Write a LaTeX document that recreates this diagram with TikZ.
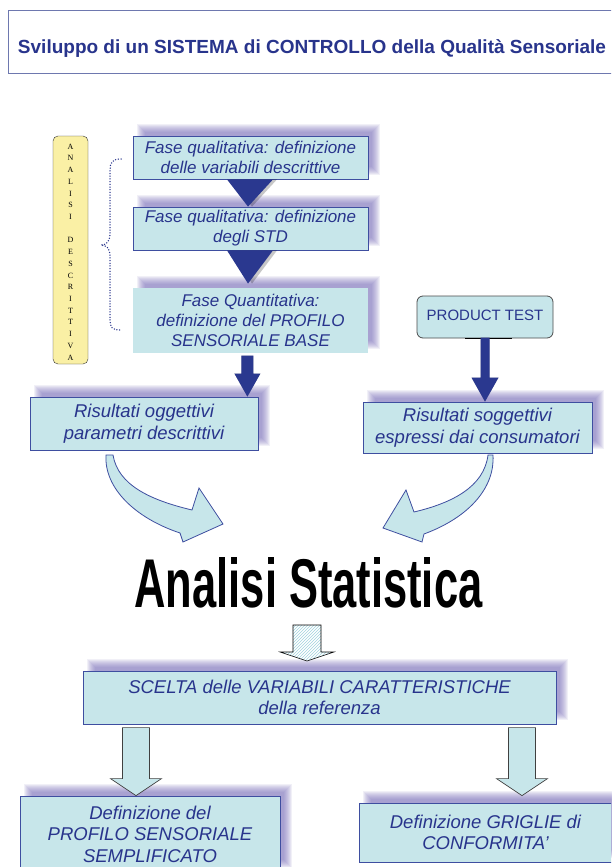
\documentclass[tikz,border=0pt]{standalone}
\usepackage{fontspec}
\usepackage{graphicx}
\setmainfont{Liberation Sans}
\newfontfamily\serifx{Liberation Serif}
\usetikzlibrary{calc,patterns}
\definecolor{boxfill}{RGB}{199,230,234}
\definecolor{boxline}{RGB}{62,78,160}
\definecolor{txtblue}{RGB}{40,52,140}
\definecolor{darkblue}{RGB}{42,56,143}
\definecolor{shadowc}{RGB}{120,108,185}
\definecolor{ttlline}{RGB}{110,120,175}
\definecolor{yellowc}{RGB}{250,240,165}
\definecolor{hatchc}{RGB}{160,210,222}
\pgfdeclarelayer{paper}
\pgfdeclarelayer{bg}
\pgfsetlayers{paper,bg,main}
\newcommand\boxshadow[1]{%
  \begin{pgfonlayer}{bg}
  \foreach \k in {-4,...,4}{%
    \fill[shadowc,opacity=0.10] ($(#1.north west)+(8+\k,-8+\k)$) rectangle ($(#1.south east)+(8-\k,-8-\k)$);
  }
  \end{pgfonlayer}}
\tikzset{
  fbox/.style={rectangle, fill=boxfill, draw=boxline, line width=0.8pt, inner sep=0pt, align=center,
    text=txtblue, font=\fontsize{17}{20}\selectfont\itshape},
  rbox/.style={fbox, font=\fontsize{18.5}{21.5}\selectfont\itshape},
  tri/.style={fill=darkblue},
  trishadow/.style={fill=black, opacity=0.22},
  barrow/.style={fill=boxfill, draw=black!75, line width=0.7pt},
  carrow/.style={fill=boxfill, draw=boxline, line width=0.8pt},
  brace/.style={draw=txtblue, line width=1.5pt, dash pattern=on 0pt off 2.7pt, line cap=round},
}
\begin{document}
\begin{tikzpicture}[x=1pt,y=-1pt]
\useasboundingbox (0,0) rectangle (611,867);
\clip (0,0) rectangle (611,867);
\begin{pgfonlayer}{paper}
\fill[white] (0,0) rectangle (611,867);
\end{pgfonlayer}

% title
\node[draw=ttlline, line width=1pt, minimum width=612, minimum height=62, inner sep=0pt] (titlebox) at (314,42) {};
\node[font=\fontsize{19}{22}\selectfont\bfseries, text=txtblue, anchor=base] (title) at (312,54)
  {Sviluppo di un SISTEMA di CONTROLLO della Qualità Sensoriale};

% yellow vertical label
\node[draw=black!80, fill=yellowc, rounded corners=5, minimum width=35, minimum height=228, inner sep=0pt] (ybox) at (70.5,250) {};
\node[font=\fontsize{8}{11.72}\selectfont\serifx, align=center, inner sep=0pt] (vert) at (70.5,252)
  {A\\N\\A\\L\\I\\S\\I\\[11.72pt]D\\E\\S\\C\\R\\I\\T\\T\\I\\V\\A};

% dotted brace
\draw[brace] (121,159) .. controls (112,159) and (110,163) .. (110,170) -- (110,234)
  .. controls (110,242) and (106,245) .. (101,245)
  .. controls (106,245) and (110,248) .. (110,256) -- (110,320)
  .. controls (110,327) and (112,330) .. (120,330);

% descriptive boxes
\node[fbox, minimum width=235, minimum height=43] (b1) at (250.5,157.5) {Fase qualitativa: definizione\\delle variabili descrittive};
\node[fbox, minimum width=235, minimum height=43] (b2) at (250.5,228.5) {Fase qualitativa: definizione\\degli STD};
\node[fbox, draw=none, minimum width=235, minimum height=65] (b3) at (250.5,320.5) {Fase Quantitativa:\\definizione del PROFILO\\SENSORIALE BASE};
\boxshadow{b1}\boxshadow{b2}\boxshadow{b3}

% triangles
\fill[trishadow] ($(b1.south)+(-20.5,0)$) -- ($(b1.south)+(26.5,0)$) -- ($(b2.north)+(1.5,0)$) -- cycle;
\fill[tri] ($(b1.south)+(-23.5,0)$) -- ($(b1.south)+(22.5,0)$) -- ($(b2.north)+(-2.5,0)$) -- cycle;
\fill[trishadow] ($(b2.south)+(-20.5,0)$) -- ($(b2.south)+(26.5,0)$) -- ($(b3.north)+(1.5,-4)$) -- cycle;
\fill[tri] ($(b2.south)+(-23.5,0)$) -- ($(b2.south)+(22.5,0)$) -- ($(b3.north)+(-2.5,-4)$) -- cycle;

% results
\node[rbox, minimum width=228, minimum height=53] (r1) at (144,423.5) {Risultati oggettivi\\parametri descrittivi};
\node[rbox, minimum width=229, minimum height=51] (r2) at (477.5,427.5) {Risultati soggettivi\\espressi dai consumatori};
\boxshadow{r1}\boxshadow{r2}

% product test
\node[rectangle, rounded corners=6, fill=boxfill, draw=black!70, line width=0.8pt, minimum width=136, minimum height=42,
  inner sep=0pt, text=txtblue, font=\fontsize{15}{18}\selectfont, text depth=4pt] (pt) at (485,317) {PRODUCT TEST};
\draw[black, line width=1.2pt] ($(pt.south)+(-20,0)$) -- ($(pt.south)+(27,0)$);

% blue arrow b3 -> r1
\coordinate (a3) at ($(r1.north east)+(-11,0)$);
\fill[trishadow, shift={(4,-2)}] (a3) -- ++(13,-23) -- ++(-7,0) -- ++(0,-18) -- ++(-12,0) -- ++(0,18) -- ++(-7,0) -- cycle;
\fill[tri] (a3) -- ++(13,-23) -- ++(-7,0) -- ++(0,-18) -- ++(-12,0) -- ++(0,18) -- ++(-7,0) -- cycle;

% blue arrow pt -> r2
\coordinate (a4) at ($(r2.north)+(7.5,0)$);
\fill[trishadow, shift={(4,-2)}] (a4) -- ++(13.5,-24) -- ++(-9,0) -- ++(0,-38) -- ++(-9,0) -- ++(0,38) -- ++(-9,0) -- cycle;
\fill[tri] (a4) -- ++(13.5,-24) -- ++(-9,0) -- ++(0,-40) -- ++(-9,0) -- ++(0,40) -- ++(-9,0) -- cycle;

% curved arrows
\filldraw[carrow] (113,455) .. controls (118,485) and (150,500) .. (192,510)
  -- (199,488) -- (223,524) -- (183,542) -- (180,533)
  .. controls (135,518) and (104,488) .. (106,455) -- cycle;
\filldraw[carrow] (488,455) .. controls (484,487) and (452,503) .. (414,512)
  -- (406,490) -- (383,528) -- (422,542) -- (424,534)
  .. controls (470,517) and (495,487) .. (493,455) -- cycle;

% Analisi Statistica
\node[font=\fontsize{69}{70}\selectfont\bfseries, anchor=base, inner sep=0pt] (stat) at (308.5,607)
  {\scalebox{0.63}[1]{Analisi Statistica}};

% hatched arrow
\coordinate (h) at (307,661);
\fill[white] (h) -- ++(27,-9) -- ++(-13,0) -- ++(0,-27) -- ++(-28,0) -- ++(0,27) -- ++(-13,0) -- cycle;
\fill[pattern=north east lines, pattern color=hatchc] (h) -- ++(27,-9) -- ++(-13,0) -- ++(0,-27) -- ++(-28,0) -- ++(0,27) -- ++(-13,0) -- cycle;
\draw[black, line width=0.6pt] (h) -- ++(27,-9) -- ++(-13,0) -- ++(0,-27) -- ++(-28,0) -- ++(0,27) -- ++(-13,0) -- cycle;

% scelta
\node[rbox, minimum width=473, minimum height=53] (sc) at (319.5,697.5) {SCELTA delle VARIABILI CARATTERISTICHE\\della referenza};
\boxshadow{sc}

% bottom boxes
\node[rbox, minimum width=260, minimum height=76] (d1) at (150,834) {Definizione del\\PROFILO SENSORIALE\\SEMPLIFICATO};
\node[rbox, minimum width=253, minimum height=59] (d2) at (485.5,832.5) {Definizione GRIGLIE di\\CONFORMITA'};
\boxshadow{d1}\boxshadow{d2}

% bottom arrows
\coordinate (l1) at ($(d1.north)+(-14,0)$);
\filldraw[barrow] (l1) -- ++(25.5,-17) -- ++(-12,0) -- ++(0,-51) -- ++(-27,0) -- ++(0,51) -- ++(-12,0) -- cycle;
\coordinate (l2) at ($(d2.north)+(36.5,-7)$);
\filldraw[barrow] (l2) -- ++(25.5,-17) -- ++(-12,0) -- ++(0,-51) -- ++(-27,0) -- ++(0,51) -- ++(-12,0) -- cycle;
\end{tikzpicture}
\end{document}
